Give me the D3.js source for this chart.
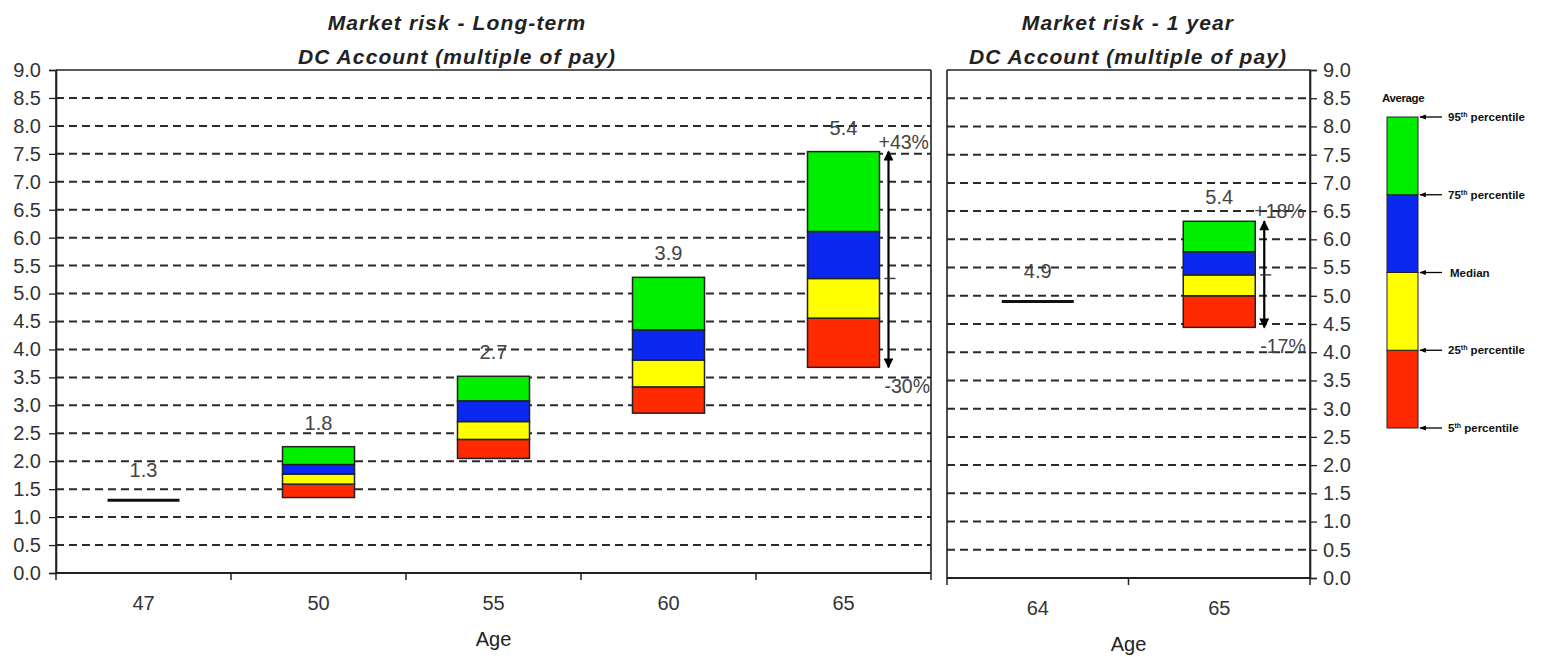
<!DOCTYPE html>
<html>
<head>
<meta charset="utf-8">
<script src="https://cdn.jsdelivr.net/npm/d3@7"></script>
<style>
  html, body { margin: 0; padding: 0; background: #ffffff; }
  svg { display: block; font-family: Arial, "Liberation Sans", sans-serif; }
</style>
</head>
<body>
<svg id="chart" width="1543" height="657"></svg>
<script>
// Long-term projection of the DC account by age (multiple of pay)
const longAges    = ["47", "50", "55", "60", "65"];
const longAverage = [1.3, 1.8, 2.7, 3.9, 5.4];
const longP5      = [null, 1.35, 2.05, 2.86, 3.68];
const longP25     = [null, 1.59, 2.39, 3.33, 4.56];
const longMedian  = [null, 1.77, 2.71, 3.81, 5.27];
const longP75     = [null, 1.94, 3.08, 4.35, 6.11];
const longP95     = [null, 2.26, 3.52, 5.29, 7.54];

// One-year horizon
const shortAges    = ["64", "65"];
const shortAverage = [4.9, 5.4];
const shortP5      = [null, 4.44];
const shortP25     = [null, 5.0];
const shortMedian  = [null, 5.37];
const shortP75     = [null, 5.78];
const shortP95     = [null, 6.32];

// Which ages carry the spread arrow
const longArrowAge  = "65";
const shortArrowAge = "65";

const yTicks = d3.range(0, 9.001, 0.5);

const bandColors = ["#ff2a00", "#ffff00", "#0a28f0", "#00ee00"]; // 5-25, 25-50, 50-75, 75-95

const legendLabels = [
  { sup: "95", rest: "percentile" },
  { sup: "75", rest: "percentile" },
  { text: "Median" },
  { sup: "25", rest: "percentile" },
  { sup: "5",  rest: "percentile" }
];

const svg = d3.select("#chart");

const defs = svg.append("defs");
defs.append("marker")
  .attr("id", "head")
  .attr("viewBox", "0 0 10 10")
  .attr("refX", 9).attr("refY", 5)
  .attr("markerWidth", 5.5).attr("markerHeight", 4.5)
  .attr("orient", "auto-start-reverse")
  .append("path").attr("d", "M0,0 L10,5 L0,10 Z").attr("fill", "#000");
defs.append("marker")
  .attr("id", "smallhead")
  .attr("viewBox", "0 0 10 10")
  .attr("refX", 9).attr("refY", 5)
  .attr("markerWidth", 5).attr("markerHeight", 5)
  .attr("orient", "auto")
  .append("path").attr("d", "M0,1 L10,5 L0,9 Z").attr("fill", "#000");

function rows(ages, avg, p5, p25, med, p75, p95) {
  return ages.map((a, i) => ({
    age: a, avg: avg[i], p5: p5[i], p25: p25[i], med: med[i], p75: p75[i], p95: p95[i]
  }));
}

function drawPanel(cfg) {
  const { data, left, right, top, bottom, yAxisSide, arrowAge, titleX } = cfg;
  const x = d3.scaleBand().domain(data.map(d => d.age)).range([left, right]).padding(0);
  const y = d3.scaleLinear().domain([0, 9]).range([bottom, top]);
  const g = svg.append("g");
  const barW = 72;

  // dashed gridlines
  g.append("g").selectAll("line")
    .data(yTicks.filter(v => v > 0 && v < 9))
    .join("line")
    .attr("x1", left).attr("x2", right)
    .attr("y1", d => y(d)).attr("y2", d => y(d))
    .attr("stroke", "#2a2a2a").attr("stroke-width", 2)
    .attr("stroke-dasharray", "8,5");

  // frame
  g.append("line").attr("x1", left).attr("x2", right).attr("y1", top).attr("y2", top)
    .attr("stroke", "#222").attr("stroke-width", 1.6);
  g.append("line").attr("x1", right).attr("x2", right).attr("y1", top).attr("y2", bottom)
    .attr("stroke", "#222").attr("stroke-width", 1.6);
  g.append("line").attr("x1", left).attr("x2", left).attr("y1", top).attr("y2", bottom)
    .attr("stroke", "#222").attr("stroke-width", 1.6);

  // y axis
  const yAxis = (yAxisSide === "left" ? d3.axisLeft(y) : d3.axisRight(y))
    .tickValues(yTicks).tickFormat(d3.format(".1f")).tickSize(7).tickPadding(yAxisSide === "left" ? 8 : 6);
  const ya = g.append("g")
    .attr("transform", `translate(${yAxisSide === "left" ? left : right},0)`)
    .call(yAxis);
  ya.select(".domain").attr("stroke", "#222").attr("stroke-width", 1.6);
  ya.selectAll(".tick line").attr("stroke", "#222").attr("stroke-width", 1.3);
  ya.selectAll(".tick text").attr("font-size", 20).attr("fill", "#333")
    .attr("font-family", "Arial, 'Liberation Sans', sans-serif");

  // x axis: ticks at category boundaries, labels centred
  const xa = g.append("g").attr("transform", `translate(0,${bottom})`);
  xa.append("line").attr("x1", left).attr("x2", right).attr("stroke", "#222").attr("stroke-width", 1.8);
  const bounds = x.domain().map(a => x(a)).concat([right]);
  xa.selectAll("line.tk").data(bounds).join("line").attr("class", "tk")
    .attr("x1", d => d).attr("x2", d => d).attr("y1", 0).attr("y2", 7)
    .attr("stroke", "#222").attr("stroke-width", 1.5);
  xa.selectAll("text").data(x.domain()).join("text")
    .attr("x", d => x(d) + x.bandwidth() / 2).attr("y", 37)
    .attr("text-anchor", "middle").attr("font-size", 20).attr("fill", "#333")
    .text(d => d);
  g.append("text").attr("x", (left + right) / 2).attr("y", bottom + 73)
    .attr("text-anchor", "middle").attr("font-size", 20).attr("fill", "#222").text("Age");

  // titles
  const t = g.append("text").attr("text-anchor", "middle")
    .attr("font-size", 21).attr("font-weight", "bold").attr("font-style", "italic")
    .attr("letter-spacing", 1.1).attr("fill", "#222");
  t.append("tspan").attr("x", titleX).attr("y", 30).text(cfg.title1);
  t.append("tspan").attr("x", titleX).attr("y", 64).text(cfg.title2);

  const cx = d => x(d.age) + x.bandwidth() / 2;

  // percentile boxes
  const boxes = data.filter(d => d.p5 != null);
  boxes.forEach(d => {
    const edges = [d.p5, d.p25, d.med, d.p75, d.p95];
    const bg = g.append("g");
    bg.selectAll("rect").data(d3.range(4)).join("rect")
      .attr("x", cx(d) - barW / 2).attr("width", barW)
      .attr("y", i => y(edges[i + 1])).attr("height", i => y(edges[i]) - y(edges[i + 1]))
      .attr("fill", i => bandColors[i]).attr("stroke", "#222").attr("stroke-width", 1.5);
  });

  // single-value lines for ages without a distribution
  g.selectAll("line.avg").data(data.filter(d => d.p5 == null)).join("line").attr("class", "avg")
    .attr("x1", d => cx(d) - 36).attr("x2", d => cx(d) + 36)
    .attr("y1", d => y(d.avg)).attr("y2", d => y(d.avg))
    .attr("stroke", "#111").attr("stroke-width", 3);

  // average labels
  g.selectAll("text.avg").data(data).join("text").attr("class", "avg")
    .attr("x", d => cx(d))
    .attr("y", d => d.p5 == null ? y(d.avg) - 23 : y(d.p95) - 17)
    .attr("text-anchor", "middle").attr("font-size", 20).attr("fill", "#444")
    .text(d => d3.format(".1f")(d.avg));

  // spread arrow with percentage moves relative to the median
  const a = data.find(d => d.age === arrowAge);
  const ax = cx(a) + barW / 2 + 9;
  g.append("line").attr("x1", ax).attr("x2", ax)
    .attr("y1", y(a.p5)).attr("y2", y(a.p95))
    .attr("stroke", "#000").attr("stroke-width", 2.2)
    .attr("marker-start", "url(#head)").attr("marker-end", "url(#head)");
  g.append("line").attr("x1", ax - 4).attr("x2", ax + 7)
    .attr("y1", y(a.med)).attr("y2", y(a.med)).attr("stroke", "#333").attr("stroke-width", 1.4);
  const up = Math.round((a.p95 / a.med - 1) * 100);
  const down = Math.round((a.p5 / a.med - 1) * 100);
  g.append("text").attr("x", ax - 10).attr("y", y(a.p95) - 3)
    .attr("font-size", 19.5).attr("fill", "#444").text("+" + up + "%");
  g.append("text").attr("x", ax - 4).attr("y", y(a.p5) + 26)
    .attr("font-size", 19.5).attr("fill", "#444").text(down + "%");
}

drawPanel({
  data: rows(longAges, longAverage, longP5, longP25, longMedian, longP75, longP95),
  left: 56, right: 931, top: 70, bottom: 573, yAxisSide: "left",
  arrowAge: longArrowAge, titleX: 457,
  title1: "Market risk - Long-term", title2: "DC Account (multiple of pay)"
});

drawPanel({
  data: rows(shortAges, shortAverage, shortP5, shortP25, shortMedian, shortP75, shortP95),
  left: 947, right: 1310, top: 70, bottom: 578, yAxisSide: "right",
  arrowAge: shortArrowAge, titleX: 1128,
  title1: "Market risk - 1 year", title2: "DC Account (multiple of pay)"
});

// legend key explaining the coloured bands
const legend = svg.append("g");
const ly = d3.scaleLinear().domain([0, 4]).range([428, 117]);
legend.selectAll("rect").data(d3.range(4)).join("rect")
  .attr("x", 1387).attr("width", 31)
  .attr("y", i => ly(i + 1)).attr("height", i => ly(i) - ly(i + 1))
  .attr("fill", i => bandColors[i]).attr("stroke", "#222").attr("stroke-width", 1);
legend.append("text").attr("x", 1382).attr("y", 102)
  .attr("font-size", 11.5).attr("font-weight", "bold").attr("fill", "#111")
  .attr("font-family", "'Liberation Sans Narrow', 'Arial Narrow', Arial, sans-serif")
  .attr("letter-spacing", -0.4).text("Average");
const edgeVals = [4, 3, 2, 1, 0];
legendLabels.forEach((l, i) => {
  const yy = ly(edgeVals[i]);
  legend.append("line").attr("x1", 1442).attr("x2", 1420).attr("y1", yy).attr("y2", yy)
    .attr("stroke", "#000").attr("stroke-width", 1.3).attr("marker-end", "url(#smallhead)");
  const tx = legend.append("text").attr("x", 1448).attr("y", yy + 4)
    .attr("font-size", 11.5).attr("font-weight", "bold").attr("fill", "#111")
    .attr("font-family", "'Liberation Sans Narrow', 'Arial Narrow', Arial, sans-serif")
    .attr("letter-spacing", 0);
  if (l.text) {
    tx.attr("x", 1450).text(l.text);
  } else {
    tx.append("tspan").text(l.sup);
    tx.append("tspan").attr("font-size", 7).attr("dy", -4).text("th");
    tx.append("tspan").attr("dy", 4).text(" " + l.rest);
  }
});
</script>
</body>
</html>
